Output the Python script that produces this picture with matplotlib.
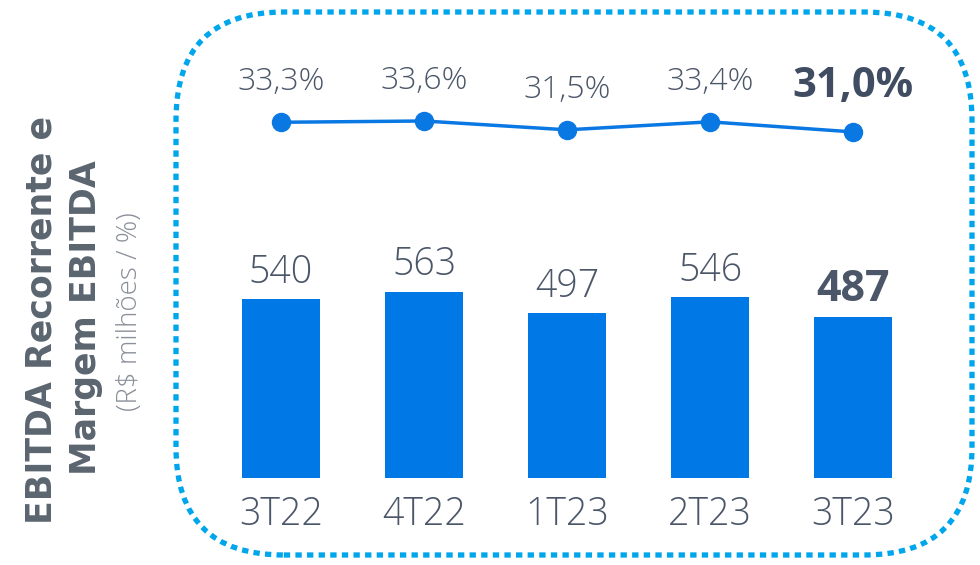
import matplotlib
matplotlib.use("Agg")
import matplotlib.pyplot as plt
from matplotlib.patches import FancyBboxPatch

# data
quarters = ["3T22", "4T22", "1T23", "2T23", "3T23"]
ebitda = [540, 563, 497, 546, 487]
margin = [33.3, 33.6, 31.5, 33.4, 31.0]
margin_labels = ["33,3%", "33,6%", "31,5%", "33,4%", "31,0%"]

BAR_BLUE = "#0078E6"
LINE_BLUE = "#0A78E2"
TEXT = "#4B5769"
TITLE = "#5B6570"
BORDER = "#00A6EC"

plt.rcParams["font.family"] = ["Open Sans", "DejaVu Sans"]

W, H = 980, 565
fig = plt.figure(figsize=(W / 100, H / 100), dpi=100)

# dotted rounded frame (figure pixels)
frame = FancyBboxPatch((176 / W, 10 / H), (972 - 176) / W, (555 - 12) / H,
                       boxstyle="round,pad=0,rounding_size=0.11",
                       transform=fig.transFigure, fill=False,
                       edgecolor=BORDER, linewidth=3.8,
                       linestyle=(0, (1.2, 1.0)), capstyle="butt",
                       mutation_aspect=W / H)
fig.patches.append(frame)

# axes placed so bar centers land on the reference positions
left_px, right_px = 209.5, 924.5
bottom_px, top_px = 87, 555
ax = fig.add_axes([left_px / W, bottom_px / H, (right_px - left_px) / W,
                   (top_px - bottom_px) / H])
x = list(range(len(quarters)))
ax.bar(x, ebitda, width=0.55, color=BAR_BLUE)
ax.set_xlim(-0.5, 4.5)
ax.set_ylim(0, (top_px - bottom_px) / 0.331)
ax.axis("off")

for i, v in enumerate(ebitda):
    last = i == len(ebitda) - 1
    ax.annotate(str(v), (i, v), xytext=(0, 27), textcoords="offset pixels",
                ha="center", va="center", color=TEXT,
                fontsize=31 if last else 27,
                fontweight="bold" if last else "light")
    ax.annotate(quarters[i], (i, 0), xytext=(0, -37), textcoords="offset pixels",
                ha="center", va="center", color=TEXT, fontsize=27,
                fontweight="light")

# margin line on its own scale
ax2 = ax.twinx()
ax2.plot(x, margin, color=LINE_BLUE, lw=2.5, marker="o", markersize=13)
ax2.set_ylim(-51.4, -51.4 + (top_px - bottom_px) / 4.2)
ax2.set_xlim(-0.5, 4.5)
ax2.axis("off")

for i, (m, lab) in enumerate(zip(margin, margin_labels)):
    last = i == len(margin) - 1
    ax2.annotate(lab, (i, m), xytext=(0, 45 if last else 40),
                 textcoords="offset pixels", ha="center", va="center",
                 color="#3F4C62" if last else TEXT,
                 fontsize=30 if last else 23,
                 fontweight="bold" if last else "light")

# side title (positions given from the top edge)
fig.text(42 / W, 1 - 320 / H, "EBITDA Recorrente e", rotation=90, ha="center",
         va="center", fontsize=25, fontweight="bold", color=TITLE,
         family="DejaVu Sans")
fig.text(86 / W, 1 - 318 / H, "Margem EBITDA", rotation=90, ha="center",
         va="center", fontsize=25, fontweight="bold", color=TITLE,
         family="DejaVu Sans")
fig.text(130 / W, 1 - 312 / H, "(R$ milhões / %)", rotation=90, ha="center",
         va="center", fontsize=20, fontweight="light", color="#8A9099")

fig.savefig("out.png", dpi=100)
